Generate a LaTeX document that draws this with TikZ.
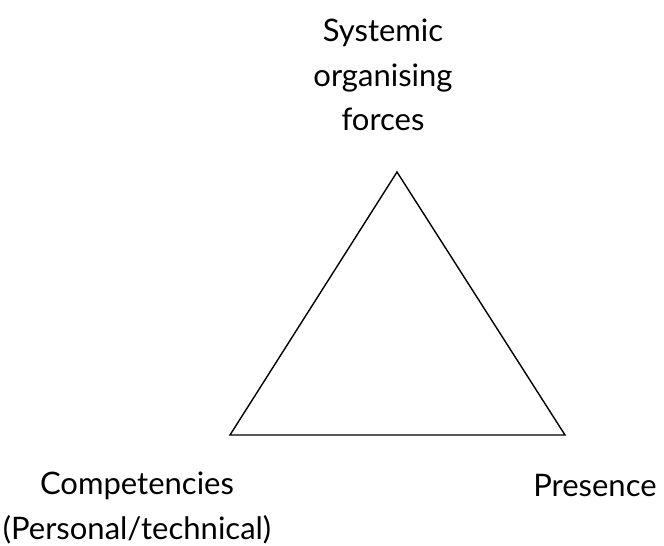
\documentclass[tikz,border=0pt]{standalone}
\usepackage{fontspec}
\setmainfont{Lato}
\begin{document}
\begin{tikzpicture}[x=1pt,y=-1pt,
  lbl/.style={font=\fontsize{31}{44.5}\selectfont, align=center, inner sep=0pt},
  edge/.style={line width=1.4pt, line join=miter}]
\useasboundingbox (0,0) rectangle (664,546);
\coordinate (top) at (397,172);
\coordinate (bl) at (230,435);
\coordinate (br) at (565,435);
\draw[edge] (top) -- (bl) -- (br) -- cycle;
\node[lbl] (sys) at (383,75) {Systemic\\organising\\forces};
\node[lbl] (comp) at (137,508) {Competencies\\(Personal/technical)};
\node[lbl] (pres) at (595,486) {Presence};
\end{tikzpicture}
\end{document}
